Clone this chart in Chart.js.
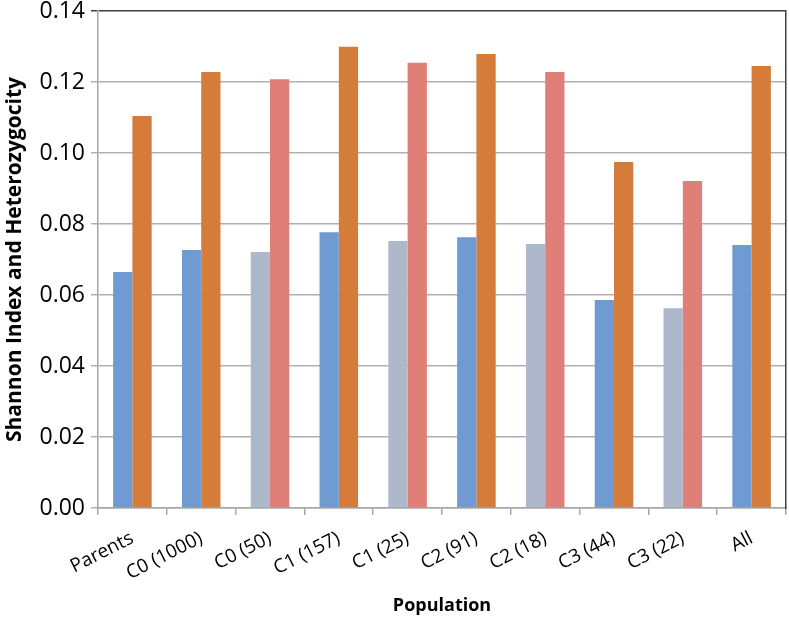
<!DOCTYPE html>
<html>
<head>
<meta charset="utf-8">
<script src="https://cdn.jsdelivr.net/npm/chart.js@4"></script>
<style>
  html, body { margin: 0; padding: 0; background: #fff; }
  #wrap { width: 789px; height: 621px; }
</style>
</head>
<body>
<div id="wrap"><canvas id="chart" width="789" height="621"></canvas></div>
<script>
const populations = ['Parents', 'C0 (1000)', 'C0 (50)', 'C1 (157)', 'C1 (25)', 'C2 (91)', 'C2 (18)', 'C3 (44)', 'C3 (22)', 'All'];
const shannon = [0.0665, 0.0727, 0.0721, 0.0777, 0.0752, 0.0763, 0.0744, 0.0586, 0.0563, 0.0741];
const heterozygosity = [0.1104, 0.1228, 0.1208, 0.1299, 0.1254, 0.1279, 0.1228, 0.0975, 0.0921, 0.1245];
const sampled = [false, false, true, false, true, false, true, false, true, false];

const blue = '#6f9ad2', orange = '#d67c3a', grey = '#adb8ca', pink = '#e07f77';

new Chart(document.getElementById('chart'), {
    type: 'bar',
    data: {
        labels: populations,
        datasets: [{
            label: 'Shannon Index',
            data: shannon,
            backgroundColor: sampled.map(s => s ? grey : blue)
        }, {
            label: 'Heterozygocity',
            data: heterozygosity,
            backgroundColor: sampled.map(s => s ? pink : orange)
        }]
    },
    options: {
        responsive: false,
        animation: false,
        categoryPercentage: 0.56,
        barPercentage: 1,
        layout: { padding: { top: 11, right: 2, left: 0, bottom: 0 } },
        plugins: { legend: { display: false }, tooltip: { enabled: false } },
        scales: {
            x: {
                grid: { offset: true, drawOnChartArea: false, tickLength: 7, color: '#a6a6a6', lineWidth: 1.5 },
                border: { color: '#a6a6a6', width: 1.5 },
                ticks: { color: '#000', font: { family: 'Open Sans', size: 19 }, minRotation: 27, maxRotation: 27, padding: 12 },
                title: { display: true, text: 'Population', color: '#000', font: { family: 'Open Sans', size: 18, weight: 'bold' }, padding: { top: 18, bottom: 4 } },
                afterFit: s => { s.height = 113; s.paddingLeft = 0; s.paddingRight = 0; }
            },
            y: {
                min: 0, max: 0.14,
                ticks: { stepSize: 0.02, color: '#000', font: { family: 'Open Sans', size: 23 }, padding: 6, callback: v => v.toFixed(2) },
                grid: { color: c => c.tick && c.tick.value >= 0.14 ? '#404040' : '#b0b0b0', lineWidth: 1.5, tickLength: 7 },
                border: { color: '#a6a6a6', width: 1.5 },
                title: { display: true, text: 'Shannon Index and Heterozygocity', color: '#000', font: { family: 'Open Sans', size: 21, weight: 'bold' }, padding: { top: 2, bottom: 0 } },
                afterFit: s => { s.width = 98; s.paddingTop = 0; s.paddingBottom = 0; }
            },
            y2: {
                position: 'right',
                min: 0, max: 0.14,
                ticks: { display: false },
                grid: { drawOnChartArea: false, drawTicks: false },
                border: { color: '#404040', width: 1.5 },
                afterFit: s => { s.width = 1; s.paddingTop = 0; s.paddingBottom = 0; }
            }
        }
    }
});
</script>
</body>
</html>
